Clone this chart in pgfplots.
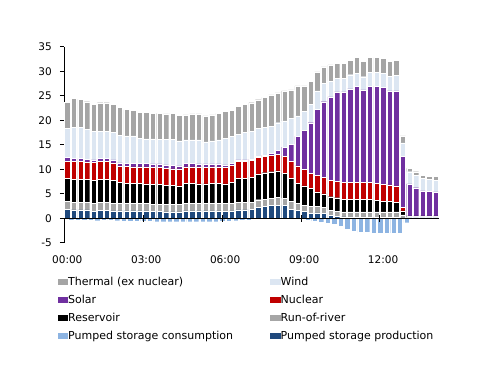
\documentclass[border=0pt]{standalone}
\usepackage{fontspec}
\setmainfont{DejaVu Sans}
\usepackage{pgfplots}
\usepackage{pgfplotstable}
\pgfplotsset{compat=1.18}

\definecolor{thermal}{HTML}{A5A5A5}
\definecolor{wind}{HTML}{DCE6F2}
\definecolor{solar}{HTML}{7030A0}
\definecolor{nuclear}{HTML}{C00000}
\definecolor{reservoir}{HTML}{000000}
\definecolor{ror}{HTML}{A6A6A6}
\definecolor{pcons}{HTML}{8DB4E2}
\definecolor{pprod}{HTML}{1F497D}

\pgfplotstableread{
x prod ror res nuc sol wind therm cons
0 1.8 1.6 4.7 3.5 0.8 6.0 5.3 -0.4
1 1.7 1.6 4.7 3.6 0.6 6.4 5.9 -0.4
2 1.7 1.6 4.7 3.6 0.6 6.4 5.7 -0.4
3 1.7 1.6 4.7 3.5 0.6 6.0 5.7 -0.4
4 1.4 1.7 4.7 3.6 0.5 5.8 5.6 -0.5
5 1.6 1.6 4.8 3.6 0.6 5.6 5.8 -0.4
6 1.6 1.6 4.8 3.6 0.6 5.6 5.8 -0.4
7 1.5 1.6 4.7 3.5 0.6 5.6 5.7 -0.5
8 1.5 1.5 4.3 3.4 0.6 5.6 5.7 -0.6
9 1.5 1.5 4.1 3.5 0.6 5.6 5.4 -0.6
10 1.5 1.5 4.1 3.4 0.7 5.6 5.3 -0.6
11 1.5 1.5 4.1 3.4 0.7 5.1 5.3 -0.6
12 1.5 1.5 4.0 3.5 0.7 5.0 5.4 -0.6
13 1.4 1.5 4.0 3.5 0.7 5.1 5.2 -0.7
14 1.4 1.5 4.0 3.5 0.7 5.0 5.3 -0.7
15 1.3 1.5 3.9 3.5 0.7 5.2 5.2 -0.7
16 1.3 1.5 3.9 3.4 0.7 5.3 5.3 -0.7
17 1.3 1.5 3.8 3.5 0.6 5.1 5.2 -0.7
18 1.5 1.5 4.1 3.4 0.7 4.8 5.1 -0.7
19 1.5 1.5 4.1 3.4 0.7 4.8 5.3 -0.7
20 1.5 1.6 3.9 3.5 0.6 4.9 5.3 -0.7
21 1.5 1.5 4.0 3.4 0.7 4.5 5.3 -0.7
22 1.5 1.5 4.1 3.4 0.6 4.7 5.3 -0.7
23 1.5 1.5 4.1 3.4 0.6 4.9 5.4 -0.6
24 1.4 1.6 4.0 3.4 0.5 5.4 5.5 -0.6
25 1.5 1.6 4.3 3.4 0.4 5.5 5.4 -0.5
26 1.7 1.5 5.0 3.4 0.3 5.3 5.7 -0.4
27 1.7 1.5 5.0 3.4 0.3 5.6 5.8 -0.3
28 1.8 1.5 5.1 3.4 0.3 5.6 5.9 -0.2
29 2.3 1.5 5.2 3.4 0.3 5.6 5.9 0
30 2.4 1.5 5.4 3.4 0.2 5.7 6.1 0
31 2.6 1.5 5.4 3.4 0.4 5.5 6.4 0
32 2.7 1.6 5.4 3.4 0.8 5.6 6.1 0
33 2.6 1.5 5.1 3.5 1.8 5.4 6.1 0
34 1.8 1.6 4.7 3.5 3.5 5.3 5.8 0
35 1.6 1.5 4.0 3.6 6.0 4.2 6.1 0
36 1.4 1.3 3.9 3.4 7.9 3.9 5.2 -0.3
37 1.0 1.5 3.6 3.1 10.3 3.8 4.6 -0.6
38 1.1 1.3 3.0 3.4 13.4 3.8 3.9 -0.8
39 1.0 1.2 2.8 3.3 15.5 3.8 3.3 -1.0
40 0.6 1.0 2.8 3.4 17.0 3.2 3.3 -1.2
41 0.4 1.0 2.8 3.4 18.2 2.8 3.0 -1.7
42 0.3 1.0 2.6 3.4 18.5 2.8 3.0 -2.3
43 0.2 1.1 2.6 3.4 19.1 2.9 3.0 -2.7
44 0.2 1.1 2.6 3.4 19.6 2.7 3.2 -2.9
45 0.2 1.1 2.6 3.4 18.9 2.7 3.1 -2.9
46 0.2 1.1 2.6 3.4 19.6 2.9 3.0 -3.0
47 0.2 1.1 2.4 3.4 19.8 2.9 3.0 -3.0
48 0.2 1.1 2.2 3.4 19.8 2.9 3.0 -3.0
49 0.2 1.1 2.1 3.4 19.2 3.0 3.0 -3.0
50 0.2 1.1 1.9 3.4 19.4 3.2 3.1 -3.0
51 0.1 0.6 0.8 0.7 10.5 2.7 1.4 -0.9
52 0.1 0.2 0.2 0.0 6.5 2.5 0.7 0
53 0.1 0.2 0.2 0.0 5.75 2.55 0.7 0
54 0.1 0.2 0.2 0.0 5.1 2.5 0.7 0
55 0.1 0.2 0.2 0.0 5.0 2.5 0.5 0
56 0.1 0.2 0.2 0.0 4.9 2.4 0.7 0
}\datatable

\begin{document}
\begin{tikzpicture}
\path[use as bounding box] (0,0) rectangle (500bp,386bp);
\pgfplotsset{
  base/.style={
    scale only axis, width=375bp, height=196bp,
    at={(64bp,143.2bp)}, anchor=south west,
    xmin=-0.5, xmax=56.5, ymin=-5, ymax=35,
    font=\fontsize{10.5bp}{12.6bp}\selectfont,
    /pgf/number format/assume math mode=true,
  },
  barsty/.style={draw=white, line width=0.3bp},
}
\begin{axis}[base, ybar stacked, bar width=0.82,
  axis y line*=left, axis x line*=bottom,
  axis line style={-, black, line width=0.8bp},
  x axis line style={draw=none},
  xtick={0,12,24,36,48},
  xticklabels={00:00,03:00,06:00,09:00,12:00},
  ytick={-5,0,...,35},
  xtick style={draw=none},
  ytick style={black, line width=0.6bp},
  tick align=outside, major tick length=4bp,
  yticklabel style={inner xsep=0pt, xshift=-8bp},
  xticklabel style={anchor=north, inner sep=0pt, yshift=-9.2bp},
]
\addplot[barsty, fill=pprod, forget plot] table[x=x,y=prod]{\datatable};
\addplot[barsty, fill=ror, forget plot] table[x=x,y=ror]{\datatable};
\addplot[barsty, fill=reservoir, forget plot] table[x=x,y=res]{\datatable};
\addplot[barsty, fill=nuclear, forget plot] table[x=x,y=nuc]{\datatable};
\addplot[barsty, fill=solar, forget plot] table[x=x,y=sol]{\datatable};
\addplot[barsty, fill=wind, forget plot] table[x=x,y=wind]{\datatable};
\addplot[barsty, fill=thermal, forget plot] table[x=x,y=therm]{\datatable};
\end{axis}
\begin{axis}[base, hide axis, ybar, bar width=0.82,
  legend image code/.code={\path (0bp,-3bp) rectangle (10.5bp,3bp); \fill[#1] (0bp,-3bp) rectangle (6bp,3bp);},
  legend columns=2,
  legend cell align=left,
  legend style={at={(-0.0173,-0.1745)}, anchor=north west, draw=none, fill=none,
    inner sep=0pt, row sep=7.5bp, column sep=0pt,
    font=\fontsize{11bp}{13bp}\selectfont,
    nodes={inner sep=0pt, text height=8bp, text depth=2.5bp}},
]
\addplot[barsty, fill=pcons, forget plot] table[x=x,y=cons]{\datatable};
\draw[black, line width=0.8bp] (axis cs:-0.5,0) -- (axis cs:56.5,0);
\pgfplotsinvokeforeach{11.5,23.5,35.5,47.5}{
  \draw[black, line width=0.6bp] ([yshift=-3.5bp]axis cs:#1,0) -- ([yshift=3.5bp]axis cs:#1,0);
}
\addlegendimage{fill=thermal, draw=none}
\addlegendentry{\makebox[202bp][l]{Thermal (ex nuclear)}}
\addlegendimage{fill=wind, draw=none}
\addlegendentry{Wind}
\addlegendimage{fill=solar, draw=none}
\addlegendentry{\makebox[202bp][l]{Solar}}
\addlegendimage{fill=nuclear, draw=none}
\addlegendentry{Nuclear}
\addlegendimage{fill=reservoir, draw=none}
\addlegendentry{\makebox[202bp][l]{Reservoir}}
\addlegendimage{fill=ror, draw=none}
\addlegendentry{Run-of-river}
\addlegendimage{fill=pcons, draw=none}
\addlegendentry{\makebox[202bp][l]{Pumped storage consumption}}
\addlegendimage{fill=pprod, draw=none}
\addlegendentry{Pumped storage production}
\end{axis}
\end{tikzpicture}
\end{document}
